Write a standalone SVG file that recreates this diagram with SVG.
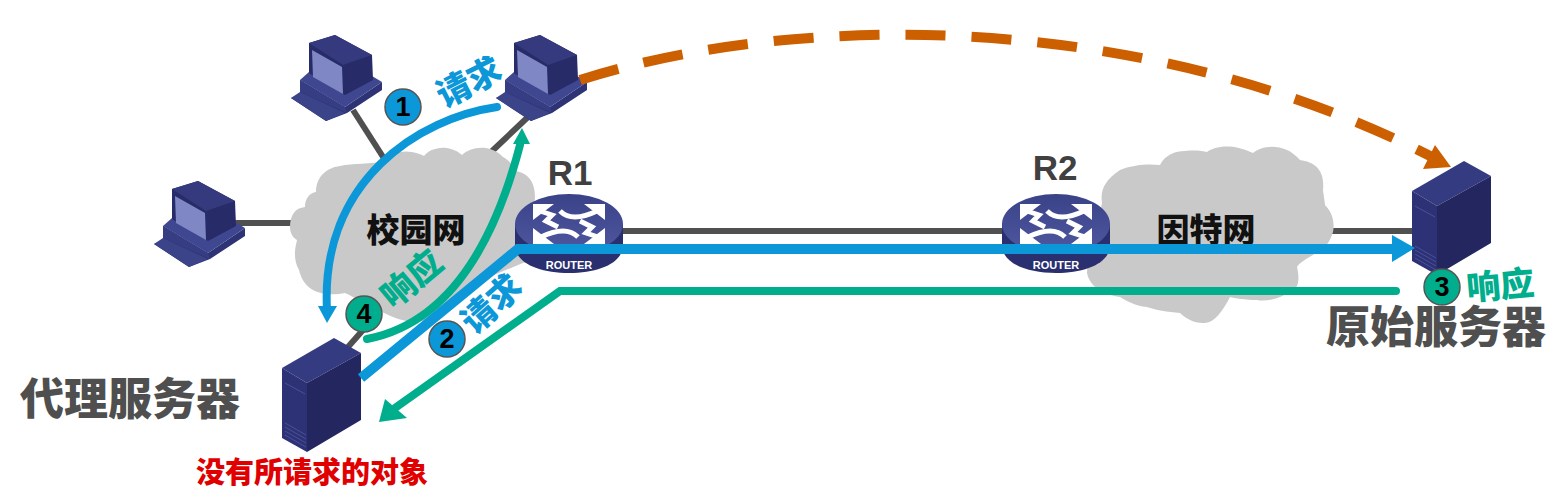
<svg xmlns="http://www.w3.org/2000/svg" width="1566" height="489" viewBox="0 0 1566 489">
<style>
text{font-family:"Noto Sans CJK SC","Liberation Sans",sans-serif;font-weight:700;text-anchor:middle;dominant-baseline:central}
.cloud{fill:#c9c9c9}
.link{stroke:#505050;stroke-width:6;fill:none}
.blue{stroke:#0b97d8;fill:none;stroke-width:8;stroke-linecap:round}
.green{stroke:#00ae8d;fill:none;stroke-width:8;stroke-linecap:round}
.num{stroke:#555;stroke-width:1.5}
.d{font-family:"Liberation Sans",sans-serif;font-size:27px;fill:#000;font-weight:700}
.tb{fill:#0b97d8;font-size:34px;font-weight:900}
.tg{fill:#00ae8d;font-size:34px;font-weight:900}
.tk{fill:#111;font-size:33px;font-weight:900}
.th{fill:#4f4f4f;font-size:44px;font-weight:900}
.r{font-family:"Liberation Sans",sans-serif;font-size:35px;fill:#404040}
.ar{stroke:#fff;stroke-width:5;fill:none}
</style>
<defs>
<linearGradient id="rg" x1="0" y1="0" x2="0" y2="1"><stop offset="0" stop-color="#3a4288"/><stop offset="1" stop-color="#4f58a0"/></linearGradient>
<g id="pc">
<polygon points="300,80 345,107 382,82 382,90 347,113 326,121 291,98 300,94" fill="#2d3375"/>
<polygon points="300,80 345,107 382,82 372,76 340,90 309,72" fill="#3f4790"/>
<polygon points="291,98 300,92 345,113 326,121" fill="#3b4389"/>
<polygon points="300,80 345,107 347,113 300,92" fill="#363d82"/>
<polygon points="309,43 335,35 372,55 373,80 345,95 309,73" fill="#272b68"/>
<polygon points="309,43 335,35 372,55 343,65" fill="#343a7d"/>
<polygon points="312,50 342,67 343,94 313,77" fill="#7f88c4"/>
</g>
<g id="server">
<polygon points="282,368 334,338 361,353 307,383" fill="#343b81"/>
<polygon points="282,368 307,383 307,452 282,438" fill="#2d3175"/>
<polygon points="307,383 361,353 361,420 307,452" fill="#24275f"/>
<g stroke="#4a5198" stroke-width="1"><line x1="285" y1="423" x2="306" y2="435"/><line x1="285" y1="427" x2="306" y2="439"/><line x1="285" y1="431" x2="306" y2="443"/><line x1="285" y1="435" x2="306" y2="447"/><line x1="285" y1="383" x2="305" y2="394"/></g>
</g>
<g id="router">
<path d="M515,224 V245 C515,263 539,273 569,273 C599,273 623,263 623,245 V224 Z" fill="#2a2f70"/>
<ellipse cx="569" cy="224" rx="54" ry="30" fill="url(#rg)"/>
<g fill="#fff">
<polygon points="533,204 554,204 533,220"/><polygon points="605,204 584,204 605,220"/>
<polygon points="533,244 554,244 533,228"/><polygon points="605,244 584,244 605,228"/>
</g>
<path class="ar" d="M540,211 L552,215 L546,221 L558,227"/>
<path class="ar" d="M598,237 L586,233 L592,227 L580,221"/>
<path class="ar" d="M560,211 Q572,223 597,211"/>
<path class="ar" d="M578,237 Q566,225 541,237"/>
<text x="569" y="265" style="font-family:'Liberation Sans',sans-serif;font-size:11px" fill="#fff">ROUTER</text>
</g>
</defs>
<rect width="1566" height="489" fill="#fff"/>

<g id="connectors-back">
<line class="link" x1="353" y1="110" x2="385" y2="160"/>
<line class="link" x1="528" y1="117" x2="490" y2="153"/>
<line class="link" x1="232" y1="223" x2="295" y2="223"/>
<line class="link" x1="348" y1="347" x2="370" y2="322"/>
<line class="link" x1="620" y1="231" x2="1005" y2="231"/>
<line class="link" x1="1330" y1="231" x2="1414" y2="231"/>
</g>

<g id="cloud-campus"><path class="cloud" d="M290,227 C290,215 295,208 305,207 C305,198 310,193 316,192 C316,178 325,168 340,166 C352,163 372,165 385,160 C392,153 402,150 412,152 C418,153 422,155 424,156 C430,148 448,143 462,155 C470,147 490,143 503,157 C512,162 514,168 514,171 C528,172 535,182 535,197 L530,260 L470,285 C455,305 440,320 415,322 C395,322 370,305 345,293 C330,296 305,296 299,270 C292,258 296,245 297,240 C292,237 290,232 290,227 Z"/><text class="tk" x="416" y="228">校园网</text></g>

<g id="cloud-internet"><path class="cloud" d="M1087,273 C1088,250 1098,225 1102,203 C1100,190 1105,180 1120,170 C1135,164 1150,164 1160,165 C1165,155 1175,151 1185,151 C1195,150 1203,151 1207,152 C1215,146 1232,143 1253,153 C1262,145 1285,142 1300,160 C1315,162 1325,170 1323,190 C1324,198 1325,203 1325,205 C1332,212 1335,222 1333,232 C1330,242 1325,248 1318,252 C1308,258 1300,262 1297,267 C1300,280 1298,288 1293,290 C1282,298 1268,302 1257,300 C1245,300 1235,298 1230,297 C1222,312 1215,322 1205,323 C1195,324 1185,318 1180,313 C1168,312 1155,310 1147,307 C1135,306 1125,300 1120,297 C1105,295 1090,288 1087,273 Z"/><text class="tk" x="1206" y="228">因特网</text></g>

<g id="pc-1"><use href="#pc"/></g>
<g id="pc-2"><use href="#pc" x="205"/></g>
<g id="pc-3"><use href="#pc" x="-137" y="146"/></g>
<g id="router-r1"><use href="#router"/><text class="r" x="570" y="172">R1</text></g>
<g id="router-r2"><use href="#router" x="487"/><text class="r" x="1055" y="167">R2</text></g>
<g id="server-proxy"><use href="#server"/><text class="th" x="130" y="396">代理服务器</text><text x="312" y="470" fill="#e00000" font-size="29" font-weight="900" style="font-weight:900">没有所请求的对象</text></g>
<g id="server-origin"><use href="#server" x="1130" y="-177"/><text class="th" x="1436" y="324">原始服务器</text></g>

<g id="connectors">
<path d="M580,80 C800,10 1150,10 1438,160" fill="none" stroke="#cc5f00" stroke-width="10" stroke-dasharray="40 26"/>
<polygon points="1451,167 1435,145 1423,169" fill="#cc5f00"/>
<path class="blue" d="M497,107 C420,118 320,180 327,310"/>
<polygon points="318,306 337,306 327,323" fill="#0b97d8"/>
<path class="green" d="M367,339 C440,325 490,260 520,145"/>
<polygon points="513,144 530,144 522,128" fill="#00ae8d"/>
<polyline points="361,378 518,249 1395,249" fill="none" stroke="#0b97d8" stroke-width="10"/>
<polygon points="1392,235 1415,248 1392,262" fill="#0b97d8"/>
<polyline class="green" stroke-width="9" points="1396,291 560,291 395,408"/>
<polygon points="385,399 407,418 379,422" fill="#00ae8d"/>
</g>

<g id="label-1"><circle class="num" cx="403" cy="107" r="18" fill="#0b97d8"/><text class="d" x="403" y="107">1</text><text class="tb" transform="translate(468,80) rotate(-27)">请求</text></g>
<g id="label-2"><circle class="num" cx="447" cy="339" r="18" fill="#0b97d8"/><text class="d" x="447" y="339">2</text><text class="tb" transform="translate(490,302) rotate(-42)">请求</text></g>
<g id="label-3"><circle class="num" cx="1442" cy="287" r="18" fill="#00ae8d"/><text class="d" x="1442" y="287">3</text><text class="tg" transform="translate(1500,283) rotate(-5)">响应</text></g>
<g id="label-4"><circle class="num" cx="364" cy="314" r="18" fill="#00ae8d"/><text class="d" x="364" y="314">4</text><text class="tg" transform="translate(410,277) rotate(-40)">响应</text></g>
</svg>
